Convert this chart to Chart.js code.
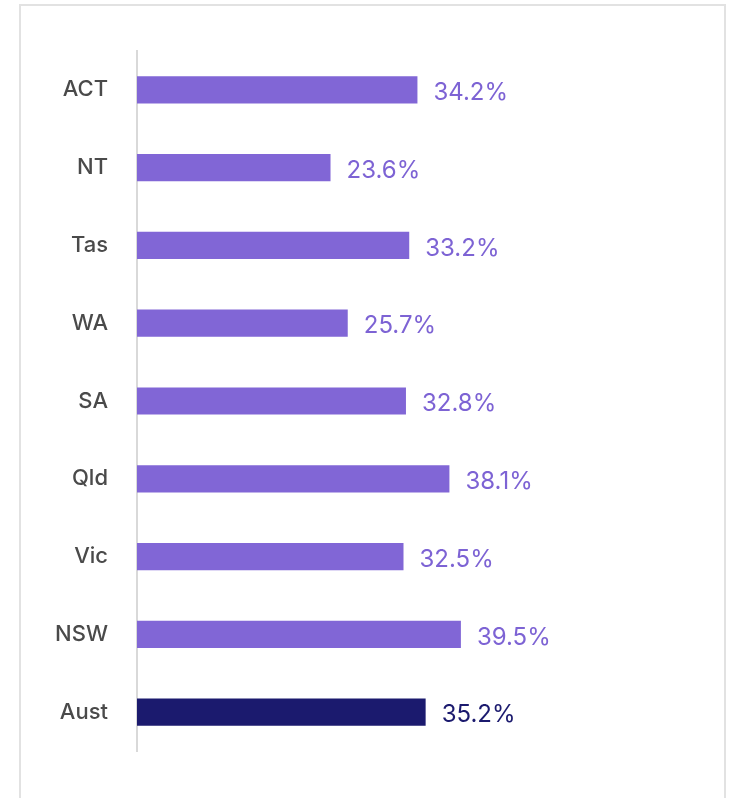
<!DOCTYPE html>
<html>
<head>
<meta charset="utf-8">
<script src="https://cdn.jsdelivr.net/npm/chart.js@4/dist/chart.umd.min.js"></script>
<style>
  html, body { margin: 0; padding: 0; background: #fff; }
  #wrap { position: relative; width: 733px; height: 798px; overflow: hidden; }
  #frame {
    position: absolute; left: 19px; top: 4px; width: 707px; height: 820px;
    border: 2px solid #e2e2e2; box-sizing: border-box;
  }
  #c { position: absolute; left: 0; top: 0; }
</style>
</head>
<body>
<div id="wrap">
  <div id="frame"></div>
  <canvas id="c" width="733" height="798"></canvas>
</div>
<script>
'use strict'

const states = ['ACT', 'NT', 'Tas', 'WA', 'SA', 'Qld', 'Vic', 'NSW', 'Aust'];
const shares = [34.2, 23.6, 33.2, 25.7, 32.8, 38.1, 32.5, 39.5, 35.2];
const barColors = ['#8166d6', '#8166d6', '#8166d6', '#8166d6', '#8166d6', '#8166d6', '#8166d6', '#8166d6', '#1b1a6e'];
const labelColors = ['#7d63d4', '#7d63d4', '#7d63d4', '#7d63d4', '#7d63d4', '#7d63d4', '#7d63d4', '#7d63d4', '#1b1a6e'];

const fontFamily = 'Inter, "Noto Sans", sans-serif';

// writes the percentage just past the end of each bar
const valueLabels = {
  id: 'valueLabels',
  afterDatasetsDraw(chart) {
    let ctx = chart.ctx;
    let meta = chart.getDatasetMeta(0);
    ctx.save();
    ctx.font = '24px ' + fontFamily;
    ctx.textAlign = 'left';
    ctx.textBaseline = 'middle';
    meta.data.forEach((bar, i) => {
      ctx.fillStyle = labelColors[i];
      ctx.fillText(shares[i].toFixed(1) + '%', bar.x + 16, bar.y + 3);
    });
    ctx.restore();
  }
};

new Chart(document.getElementById('c'), {
  type: 'bar',
  data: {
    labels: states,
    datasets: [{
      data: shares,
      backgroundColor: barColors,
      borderWidth: 0,
      barPercentage: 0.7,
      categoryPercentage: 0.5
    }]
  },
  options: {
    indexAxis: 'y',
    responsive: false,
    animation: false,
    layout: { padding: { top: 51, bottom: 47, left: 0, right: 186 } },
    plugins: {
      legend: { display: false },
      tooltip: { enabled: false }
    },
    scales: {
      x: { display: false, min: 0, max: 50 },
      y: {
        grid: { display: false },
        border: { display: true, color: '#d9d9d9', width: 2 },
        ticks: {
          color: '#4a4a4a',
          padding: 21,
          font: { family: fontFamily, size: 22, weight: '500' }
        },
        afterFit(scale) { scale.width = 137; }
      }
    }
  },
  plugins: [valueLabels]
});
</script>
</body>
</html>
